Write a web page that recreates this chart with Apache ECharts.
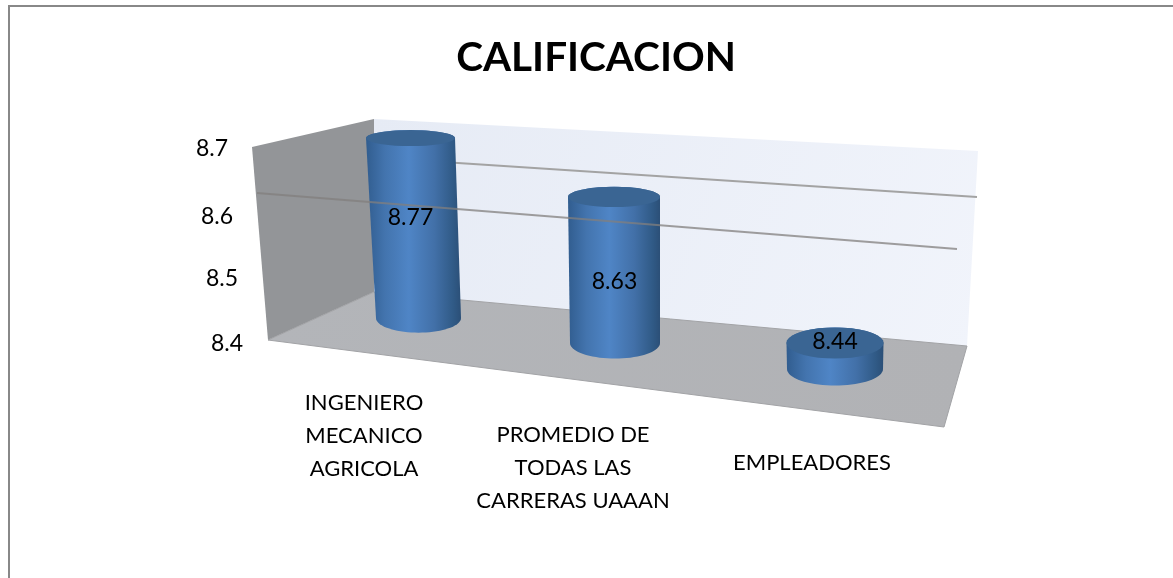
<!DOCTYPE html>
<html>
<head>
<meta charset="utf-8">
<title>CALIFICACION</title>
<style>
  html, body { margin: 0; padding: 0; background: #fff; }
  #chart { width: 1173px; height: 578px; }
</style>
<script src="https://cdn.jsdelivr.net/npm/echarts@6/dist/echarts.min.js"></script>
</head>
<body>
<div id="chart"></div>
<script>
const titleText = 'CALIFICACION';
const categories = ['INGENIERO\nMECANICO\nAGRICOLA', 'PROMEDIO DE\nTODAS LAS\nCARRERAS UAAAN', 'EMPLEADORES'];
const values = [8.77, 8.63, 8.44];
const axisMin = 8.4;
const axisMax = 8.7;
const axisStep = 0.1;

// fake 3d view: how each category sits on the floor of the perspective box
const views = [
  {dx: 14, dy: -25, k: 0.748, lean: -8, rxTop: 44.5, rxBase: 42.5, labelDx: -4, labelDy: -10, catDx: -40.5, catDy: 93},
  {dx: 1.5, dy: 0, k: 0.977, lean: -1, rxTop: 46, rxBase: 45, labelDx: 0, labelDy: 11.5, catDx: -40.5, catDy: 125},
  {dx: 12.5, dy: 26, k: 1, lean: 0, rxTop: 48.5, rxBase: 48, labelDx: 0, labelDy: -14, catDx: -10.5, catDy: 120}
];
const fontFamily = 'Lato, "Open Sans", sans-serif';

const chart = echarts.init(document.getElementById('chart'));

// ellipses open up the lower they are on the page
function tilt(y) {
  return 8 + (y - 138) * 0.037;
}

function arcPoints(cx, cy, rx, ry, from, to) {
  const pts = [];
  for (let a = 0; a <= 36; a++) {
    const t = from + (to - from) * a / 36;
    pts.push([cx + rx * Math.cos(t), cy + ry * Math.sin(t)]);
  }
  return pts;
}

const bodyFill = new echarts.graphic.LinearGradient(0, 0, 1, 0, [
  {offset: 0, color: '#315d8f'},
  {offset: 0.2, color: '#4374ae'},
  {offset: 0.45, color: '#4f85c6'},
  {offset: 0.72, color: '#4270a8'},
  {offset: 0.92, color: '#305a86'},
  {offset: 1, color: '#2b4f77'}
]);

function renderCylinder(params, api) {
  const i = api.value(0);
  const v = views[i];
  const zero = api.coord([i, axisMin]);
  const top = api.coord([i, api.value(1)]);
  const cx = zero[0] + v.dx;
  const baseY = zero[1] + v.dy;
  const topY = baseY - (zero[1] - top[1]) * v.k;
  const topX = cx + v.lean;
  const baseRy = tilt(baseY);
  const topRy = tilt(topY);
  const midY = (topY + baseY) / 2;

  const body = arcPoints(cx, baseY, v.rxBase, baseRy, 0, Math.PI)
    .concat(arcPoints(topX, topY, v.rxTop, topRy, Math.PI, 2 * Math.PI));
  const lid = arcPoints(topX, topY, v.rxTop, topRy, 0, 2 * Math.PI);

  return {
    type: 'group',
    children: [
      {type: 'polygon', shape: {points: body}, style: {fill: bodyFill}},
      {type: 'polygon', shape: {points: lid}, style: {fill: '#3a6593'}},
      {
        type: 'text',
        style: {
          text: api.value(1).toFixed(2),
          x: (topX + cx) / 2 + v.labelDx,
          y: midY + v.labelDy,
          align: 'center',
          verticalAlign: 'middle',
          fill: '#000',
          fontFamily: fontFamily,
          fontSize: 23
        }
      },
      {
        type: 'text',
        style: {
          text: categories[i],
          x: zero[0] + v.catDx,
          y: zero[1] + v.catDy,
          align: 'center',
          verticalAlign: 'middle',
          fill: '#000',
          fontFamily: fontFamily,
          fontSize: 22,
          lineHeight: 33
        }
      }
    ]
  };
}

chart.setOption({
  animation: false,
  backgroundColor: '#fff',
  title: {
    text: titleText,
    left: 591,
    top: 32,
    textAlign: 'center',
    textStyle: {fontFamily: fontFamily, fontWeight: 'bold', fontSize: 40.5, color: '#000'}
  },
  grid: {left: 300, width: 627, top: 148, height: 195},
  xAxis: {type: 'category', data: categories, show: false},
  yAxis: {
    type: 'value',
    min: axisMin,
    max: axisMax,
    interval: axisStep,
    axisLine: {show: false},
    axisTick: {show: false},
    splitLine: {show: false},
    axisLabel: {
      margin: 57,
      formatter: function (val, idx) {
        return '{t' + idx + '|' + val.toFixed(1) + '}';
      },
      rich: {
        t0: {fontFamily: fontFamily, fontSize: 23, color: '#000', padding: [2, 0, 0, 0]},
        t1: {fontFamily: fontFamily, fontSize: 23, color: '#000', padding: [2, 5, 0, 0]},
        t2: {fontFamily: fontFamily, fontSize: 23, color: '#000', padding: [8, 10, 0, 0]},
        t3: {fontFamily: fontFamily, fontSize: 23, color: '#000', padding: [2, 15, 0, 0]}
      }
    }
  },
  graphic: [
    {type: 'polyline', z: 0, shape: {points: [[9, 578], [9, 6], [1173, 6]]}, style: {stroke: '#888', lineWidth: 2, fill: null}},
    // back wall
    {type: 'polygon', z: 0, shape: {points: [[374, 119], [978, 151], [967, 346], [374, 292]]},
      style: {fill: new echarts.graphic.LinearGradient(0, 0, 1, 1, [{offset: 0, color: '#e6ebf5'}, {offset: 1, color: '#f1f4fb'}])}},
    // left wall
    {type: 'polygon', z: 0, shape: {points: [[252, 147], [374, 119], [374, 292], [268, 340]]},
      style: {fill: '#939598'}},
    // floor
    {type: 'polygon', z: 0, shape: {points: [[268, 340], [374, 292], [967, 346], [944, 427]]},
      style: {fill: new echarts.graphic.LinearGradient(0, 0, 1, 0, [{offset: 0, color: '#b3b5b9'}, {offset: 1, color: '#b1b2b5'}]), stroke: '#a2a3a6', lineWidth: 1}},
    // grid lines of the picture, the lower one runs in front of the cylinders
    {type: 'line', z: 1, shape: {x1: 374, y1: 157.5, x2: 977, y2: 197}, style: {stroke: '#a3a3a3', lineWidth: 2}},
    {type: 'line', z: 10, shape: {x1: 257, y1: 193, x2: 957, y2: 249}, style: {stroke: 'rgba(130,127,125,0.75)', lineWidth: 2}}
  ],
  series: [{
    type: 'custom',
    z: 5,
    silent: true,
    renderItem: renderCylinder,
    encode: {x: 0, y: 1},
    data: values.map(function (val, i) { return [i, val]; })
  }]
});
</script>
</body>
</html>
